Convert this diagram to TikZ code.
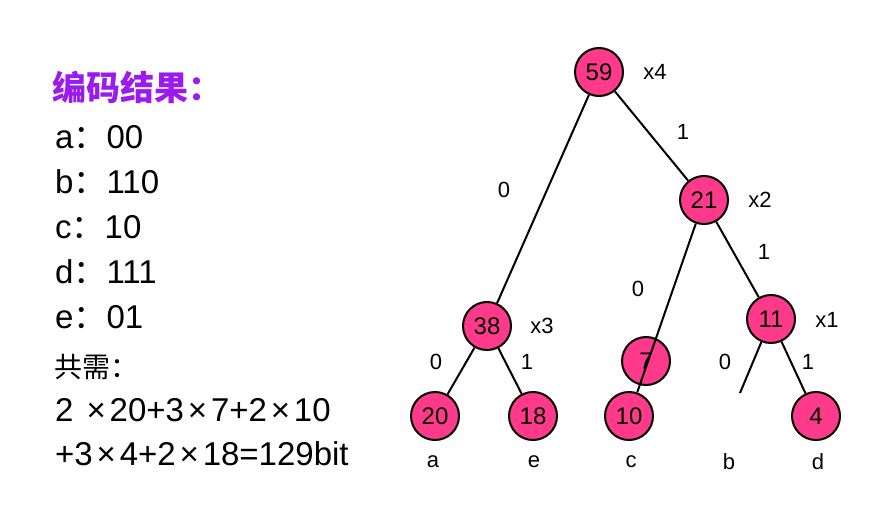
\documentclass[tikz,border=0pt]{standalone}
\usepackage{fontspec}
\setmainfont{Liberation Sans}
\newfontfamily\cjk{Noto Sans CJK SC}
\usetikzlibrary{positioning}
\definecolor{TitlePurple}{HTML}{9A1AF0}
\definecolor{NodePink}{HTML}{FF3A8A}
\definecolor{Ink}{HTML}{000000}
\newcommand{\tms}{\makebox[27pt]{×}}
\newcommand{\fc}{{\cjk ：}}

\begin{document}
\begin{tikzpicture}[
    x=1pt, y=-1pt,
    treenode/.style={
      circle,
      fill=NodePink,
      draw=Ink,
      line width=2pt,
      minimum size=48pt,
      inner sep=0pt,
      font=\fontsize{24}{28}\selectfont
    },
    bitlabel/.style={font=\fontsize{22}{26}\selectfont},
    codeline/.style={anchor=base west, inner sep=0pt, font=\fontsize{33}{38}\selectfont},
    branch/.style={draw=Ink, line width=2pt}
  ]
  \useasboundingbox (0,0) rectangle (891,508);

  % left column: result of the coding
  \node[codeline, font=\cjk\bfseries\fontsize{34}{40}\selectfont, text=TitlePurple] (title) at (52,101) {编码结果：};
  \node[codeline] (codea) at (55,148) {a\fc00};
  \node[codeline] (codeb) at (55,193) {b\fc110};
  \node[codeline] (codec) at (55,238) {c\fc10};
  \node[codeline] (coded) at (55,283) {d\fc111};
  \node[codeline] (codee) at (55,328) {e\fc01};
  \node[codeline, font=\cjk\fontsize{28}{32}\selectfont] (total) at (54,377) {共需：};
  \node[codeline] (sumone) at (55,421) {2 \tms20+3\tms7+2\tms10};
  \node[codeline] (sumtwo) at (55,465) {+3\tms4+2\tms18=129bit};

  % tree nodes
  \node[treenode] (n59) at (599,72) {59};
  \node[treenode] (n21) at (704,200) {21};
  \node[treenode] (n38) at (487,326) {38};
  \node[treenode] (n11) at (771,319) {11};
  \node[treenode] (n7) at (646,361) {7};
  \node[treenode] (n20) at (435,416) {20};
  \node[treenode] (n18) at (533,416) {18};
  \node[treenode] (n10) at (629,416) {10};
  \node[treenode] (n4) at (816,416) {4};
  \coordinate (bend) at (740,393);

  % branches
  \draw[branch] (n59) -- (n38);
  \draw[branch] (n59) -- (n21);
  \draw[branch] (n38) -- (n20);
  \draw[branch] (n38) -- (n18);
  \draw[branch] (n21) -- (n10);
  \draw[branch] (n21) -- (n11);
  \draw[branch] (n11) -- (bend);
  \draw[branch] (n11) -- (n4);

  % step marks beside the inner nodes
  \node[bitlabel] (s4) at (655,72) {x4};
  \node[bitlabel] (s2) at (760,200) {x2};
  \node[bitlabel] (s3) at (542,326) {x3};
  \node[bitlabel] (s1) at (827,320) {x1};

  % bit labels
  \node[bitlabel] (b591) at (683,132) {1};
  \node[bitlabel] (b590) at (504,190) {0};
  \node[bitlabel] (b210) at (638,289) {0};
  \node[bitlabel] (b211) at (764,252) {1};
  \node[bitlabel] (b380) at (436,362) {0};
  \node[bitlabel] (b381) at (527,362) {1};
  \node[bitlabel] (b110) at (725,362) {0};
  \node[bitlabel] (b111) at (808,362) {1};

  % leaf letters
  \node[bitlabel] (la) at (433,462) {a};
  \node[bitlabel] (le) at (534,462) {e};
  \node[bitlabel] (lc) at (631,462) {c};
  \node[bitlabel] (lb) at (729,462) {b};
  \node[bitlabel] (ld) at (818,462) {d};
\end{tikzpicture}
\end{document}
